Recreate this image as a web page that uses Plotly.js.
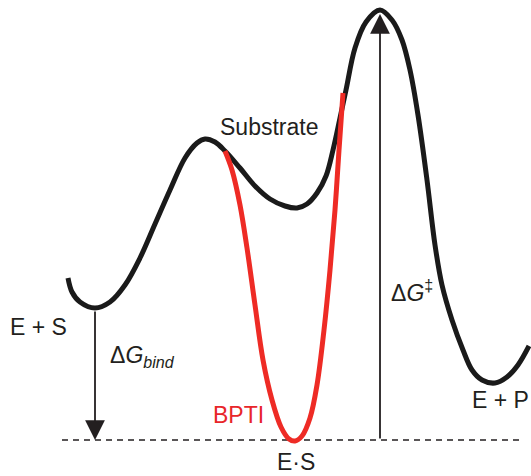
<!DOCTYPE html>
<html><head><meta charset="utf-8">
<script src="https://cdn.plot.ly/plotly-3.0.1.min.js"></script>
<style>html,body{margin:0;padding:0;background:#fff;}#chart{width:531px;height:476px;}</style>
</head><body><div id="chart"></div>
<script>
// Energy profile (x: reaction coordinate, y: free energy, pixel-like units, down = lower energy)
const blackX = [68, 72, 80, 95, 110, 125, 140, 155, 170, 185, 197, 205, 215, 225, 240, 255, 270, 285, 297, 307, 317, 326, 333, 340, 346, 355, 366, 380, 392, 402, 410, 418, 427, 435, 442, 452, 463, 472, 482, 495, 507, 518, 529];
const blackY = [278, 292, 302, 308, 302, 285, 258, 224, 190, 158, 143, 139, 142, 151, 168, 186, 199, 206, 208, 204, 193, 176, 150, 118, 90, 48, 22, 10, 20, 40, 70, 115, 180, 245, 285, 320, 350, 370, 380, 383, 377, 365, 346];
const redX = [225, 232, 240, 247, 255, 263, 272, 281, 289, 295, 302, 310, 317, 324, 330, 335, 339, 343];
const redY = [151, 170, 205, 248, 305, 360, 400, 427, 439, 441, 436, 418, 385, 330, 270, 210, 150, 93];
const baseX = [62, 520];
const baseY = [440, 440];

const labels = [
  {text: 'E + S', x: 38, y: 327, color: '#231f20'},
  {text: 'Substrate', x: 269, y: 127, color: '#231f20'},
  {text: 'ΔG<sub>bind</sub>', x: 142, y: 356, color: '#231f20'},
  {text: 'ΔG<sup>‡</sup>', x: 412, y: 291, color: '#231f20'},
  {text: 'E + P', x: 500, y: 400, color: '#231f20'},
  {text: 'BPTI', x: 238, y: 415, color: '#e8262a'},
  {text: 'E·S', x: 296, y: 462, color: '#231f20'}
];

const traces = [
  {x: baseX, y: baseY, mode: 'lines', line: {color: '#231f20', width: 1.6, dash: '6px,5px'}, hoverinfo: 'skip'},
  {x: blackX, y: blackY, mode: 'lines', line: {color: '#1a1a1a', width: 5, shape: 'spline', smoothing: 1}, hoverinfo: 'skip'},
  {x: redX, y: redY, mode: 'lines', line: {color: '#ee2b25', width: 5, shape: 'spline', smoothing: 1}, hoverinfo: 'skip'}
];

const font = {family: 'Liberation Sans, Arial, sans-serif', size: 23};
const annotations = labels.map(l => ({
  x: l.x, y: l.y, xref: 'x', yref: 'y', showarrow: false,
  text: l.text.replace('ΔG', 'Δ<i>G</i>').replace('bind', '<i>bind</i>'),
  font: Object.assign({}, font, {color: l.color}), xanchor: 'center', yanchor: 'middle'
}));
annotations.push({x: 95, y: 440, ax: 95, ay: 310, xref: 'x', yref: 'y', axref: 'x', ayref: 'y',
  showarrow: true, arrowhead: 2, arrowsize: 2.2, arrowwidth: 1.8, arrowcolor: '#231f20', text: ''});
annotations.push({x: 380, y: 14, ax: 380, ay: 440, xref: 'x', yref: 'y', axref: 'x', ayref: 'y',
  showarrow: true, arrowhead: 2, arrowsize: 2.2, arrowwidth: 1.8, arrowcolor: '#231f20', text: ''});

const layout = {
  width: 531, height: 476, margin: {l: 0, r: 0, t: 0, b: 0},
  paper_bgcolor: '#fff', plot_bgcolor: '#fff', showlegend: false,
  xaxis: {range: [0, 531], visible: false, fixedrange: true},
  yaxis: {range: [476, 0], visible: false, fixedrange: true},
  annotations: annotations
};
Plotly.newPlot('chart', traces, layout, {staticPlot: true, displayModeBar: false});
</script></body></html>
